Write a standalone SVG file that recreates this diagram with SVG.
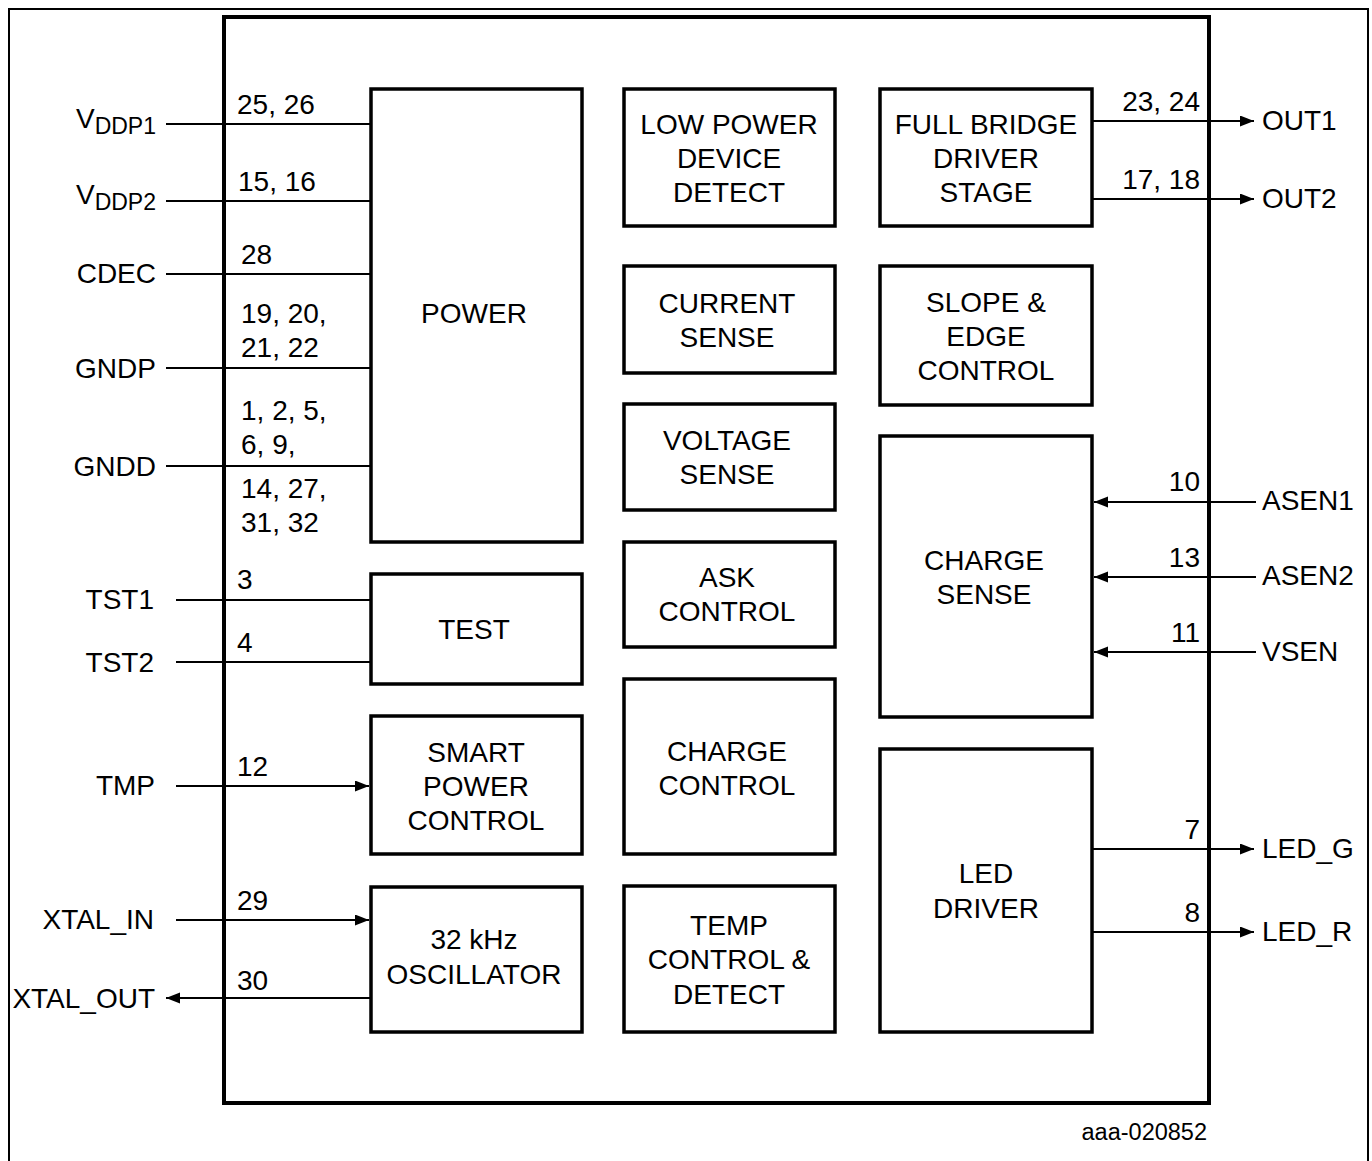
<svg xmlns="http://www.w3.org/2000/svg" width="1372" height="1161" viewBox="0 0 1372 1161">
<style>
text{font-family:"Liberation Sans",Arial,sans-serif;font-size:28px;fill:#000}
.c{text-anchor:middle}
.e{text-anchor:end}
.blk{fill:#fff;stroke:#000;stroke-width:3.5}
.w{fill:none;stroke:#000;stroke-width:2}
</style>
<defs>
<marker id="ah" markerUnits="userSpaceOnUse" markerWidth="16" markerHeight="12" refX="14" refY="5.5" orient="auto"><path d="M0,0 L14,5.5 L0,11 z" fill="#000"/></marker>
</defs>
<rect x="9" y="9" width="1359" height="1170" fill="#fff" stroke="#000" stroke-width="2"/>
<rect id="chip" x="224" y="17" width="985" height="1086" fill="#fff" stroke="#000" stroke-width="4"/>

<g id="power"><rect class="blk" x="371" y="89" width="211" height="453"/><text class="c" x="474" y="323">POWER</text></g>
<g id="test"><rect class="blk" x="371" y="574" width="211" height="110"/><text class="c" x="474" y="639">TEST</text></g>
<g id="smart"><rect class="blk" x="371" y="716" width="211" height="138"/><text class="c" x="476" y="762">SMART</text><text class="c" x="476" y="796">POWER</text><text class="c" x="476" y="830">CONTROL</text></g>
<g id="osc"><rect class="blk" x="371" y="887" width="211" height="145"/><text class="c" x="474" y="949">32 kHz</text><text class="c" x="474" y="984">OSCILLATOR</text></g>

<g id="lowpower"><rect class="blk" x="624" y="89" width="211" height="137"/><text class="c" x="729" y="134">LOW POWER</text><text class="c" x="729" y="168">DEVICE</text><text class="c" x="729" y="202">DETECT</text></g>
<g id="current"><rect class="blk" x="624" y="266" width="211" height="107"/><text class="c" x="727" y="313">CURRENT</text><text class="c" x="727" y="347">SENSE</text></g>
<g id="voltage"><rect class="blk" x="624" y="404" width="211" height="106"/><text class="c" x="727" y="450">VOLTAGE</text><text class="c" x="727" y="484">SENSE</text></g>
<g id="ask"><rect class="blk" x="624" y="542" width="211" height="105"/><text class="c" x="727" y="587">ASK</text><text class="c" x="727" y="621">CONTROL</text></g>
<g id="chargecontrol"><rect class="blk" x="624" y="679" width="211" height="175"/><text class="c" x="727" y="761">CHARGE</text><text class="c" x="727" y="795">CONTROL</text></g>
<g id="temp"><rect class="blk" x="624" y="886" width="211" height="146"/><text class="c" x="729" y="935">TEMP</text><text class="c" x="729" y="969">CONTROL &amp;</text><text class="c" x="729" y="1004">DETECT</text></g>

<g id="fullbridge"><rect class="blk" x="880" y="89" width="212" height="137"/><text class="c" x="986" y="134">FULL BRIDGE</text><text class="c" x="986" y="168">DRIVER</text><text class="c" x="986" y="202">STAGE</text></g>
<g id="slope"><rect class="blk" x="880" y="266" width="212" height="139"/><text class="c" x="986" y="312">SLOPE &amp;</text><text class="c" x="986" y="346">EDGE</text><text class="c" x="986" y="380">CONTROL</text></g>
<g id="chargesense"><rect class="blk" x="880" y="436" width="212" height="281"/><text class="c" x="984" y="570">CHARGE</text><text class="c" x="984" y="604">SENSE</text></g>
<g id="led"><rect class="blk" x="880" y="749" width="212" height="283"/><text class="c" x="986" y="883">LED</text><text class="c" x="986" y="918">DRIVER</text></g>

<g id="connectors">
<line class="w" x1="166" y1="124" x2="371" y2="124"/>
<line class="w" x1="166" y1="201" x2="371" y2="201"/>
<line class="w" x1="166" y1="274" x2="371" y2="274"/>
<line class="w" x1="166" y1="368" x2="371" y2="368"/>
<line class="w" x1="166" y1="466" x2="371" y2="466"/>
<line class="w" x1="176" y1="600" x2="371" y2="600"/>
<line class="w" x1="176" y1="662" x2="371" y2="662"/>
<line class="w" x1="176" y1="786" x2="369" y2="786" marker-end="url(#ah)"/>
<line class="w" x1="176" y1="920" x2="369" y2="920" marker-end="url(#ah)"/>
<line class="w" x1="371" y1="998" x2="166" y2="998" marker-end="url(#ah)"/>
<line class="w" x1="1092" y1="121" x2="1254" y2="121" marker-end="url(#ah)"/>
<line class="w" x1="1092" y1="199" x2="1254" y2="199" marker-end="url(#ah)"/>
<line class="w" x1="1256" y1="502" x2="1094" y2="502" marker-end="url(#ah)"/>
<line class="w" x1="1256" y1="577" x2="1094" y2="577" marker-end="url(#ah)"/>
<line class="w" x1="1256" y1="652" x2="1094" y2="652" marker-end="url(#ah)"/>
<line class="w" x1="1092" y1="849" x2="1254" y2="849" marker-end="url(#ah)"/>
<line class="w" x1="1092" y1="932" x2="1254" y2="932" marker-end="url(#ah)"/>
</g>

<g id="pins-left">
<text class="e" x="156" y="128">V<tspan font-size="23" dy="6">DDP1</tspan></text>
<text class="e" x="156" y="204">V<tspan font-size="23" dy="6">DDP2</tspan></text>
<text class="e" x="156" y="283">CDEC</text>
<text class="e" x="156" y="378">GNDP</text>
<text class="e" x="156" y="476">GNDD</text>
<text class="e" x="154" y="609">TST1</text>
<text class="e" x="154" y="672">TST2</text>
<text class="e" x="155" y="795">TMP</text>
<text class="e" x="154" y="929">XTAL_IN</text>
<text class="e" x="155" y="1008">XTAL_OUT</text>
<text x="237" y="114">25, 26</text>
<text x="238" y="191">15, 16</text>
<text x="241" y="264">28</text>
<text x="241" y="323">19, 20,</text>
<text x="241" y="357">21, 22</text>
<text x="241" y="420">1, 2, 5,</text>
<text x="241" y="454">6, 9,</text>
<text x="241" y="498">14, 27,</text>
<text x="241" y="532">31, 32</text>
<text x="237" y="589">3</text>
<text x="237" y="652">4</text>
<text x="237" y="776">12</text>
<text x="237" y="910">29</text>
<text x="237" y="990">30</text>
</g>

<g id="pins-right">
<text x="1262" y="130">OUT1</text>
<text x="1262" y="208">OUT2</text>
<text x="1262" y="510">ASEN1</text>
<text x="1262" y="585">ASEN2</text>
<text x="1262" y="661">VSEN</text>
<text x="1262" y="858">LED_G</text>
<text x="1262" y="941">LED_R</text>
<text class="e" x="1200" y="111">23, 24</text>
<text class="e" x="1200" y="189">17, 18</text>
<text class="e" x="1200" y="491">10</text>
<text class="e" x="1200" y="567">13</text>
<text class="e" x="1200" y="642">11</text>
<text class="e" x="1200" y="839">7</text>
<text class="e" x="1200" y="922">8</text>
</g>

<text class="e" x="1207" y="1140" style="font-size:23.5px">aaa-020852</text>
</svg>
